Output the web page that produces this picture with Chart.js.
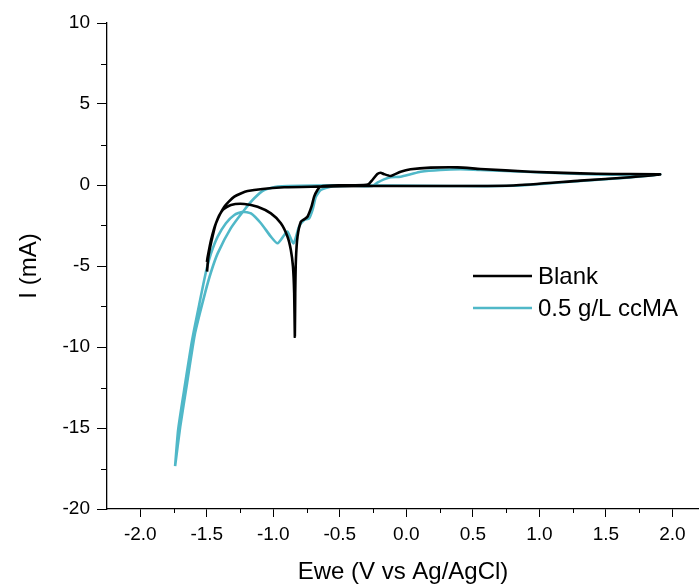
<!DOCTYPE html>
<html>
<head>
<meta charset="utf-8">
<script src="https://cdn.jsdelivr.net/npm/chart.js@4.4.1/dist/chart.umd.min.js"></script>
<style>
    body { margin: 0; background: #fff; }
    #wrap { width: 699px; height: 587px; }
</style>
</head>
<body>
<div id="wrap"><canvas id="cvChart" width="699" height="587"></canvas></div>
<script>
// Blank: anodic sweep from -1.5 V to +1.9 V, then back down to -1.5 V
const blankE = [-1.499, -1.493, -1.468, -1.431, -1.368, -1.293, -1.193, -0.918, -0.668, -0.293, 0.332, 0.805, 1.308, 1.683, 1.908,
    1.555, 1.308, 0.933, 0.557, 0.385, 0.182, 0.032, -0.043, -0.118, -0.170, -0.193, -0.218, -0.255, -0.283, -0.320, -0.493,
    -0.643, -0.668, -0.693, -0.713, -0.743, -0.768, -0.793, -0.818, -0.830, -0.835, -0.838, -0.843, -0.852, -0.868, -0.893,
    -0.943, -1.018, -1.118, -1.218, -1.318, -1.380, -1.431, -1.463, -1.488, -1.498];
const blankI = [-4.75, -4.43, -3.40, -2.36, -1.34, -0.72, -0.37, -0.14, -0.10, -0.06, -0.06, -0.03, 0.27, 0.48, 0.66,
    0.68, 0.72, 0.82, 0.99, 1.09, 1.07, 0.97, 0.82, 0.56, 0.68, 0.76, 0.68, 0.31, 0.06, 0.00, -0.02,
    -0.09, -0.31, -0.72, -1.34, -1.96, -2.12, -2.27, -3.19, -4.63, -6.69, -9.36, -6.67, -5.04, -4.01, -3.19,
    -2.36, -1.75, -1.34, -1.17, -1.23, -1.54, -2.36, -3.40, -4.43, -5.35];

// 0.5 g/L ccMA
const ccmaE = [-1.738, -1.700, -1.648, -1.588, -1.513, -1.468, -1.418, -1.318, -1.218, -1.143, -1.068, -0.968, -0.545, 0.332, 0.805, 1.308, 1.683, 1.908,
    1.555, 1.308, 0.933, 0.557, 0.407, 0.257, 0.107, 0.032, -0.043, -0.118, -0.168, -0.218, -0.255, -0.400, -0.568, -0.643,
    -0.680, -0.705, -0.731, -0.768, -0.806, -0.848, -0.893, -0.918, -0.968, -1.018, -1.093, -1.168, -1.230, -1.293, -1.356,
    -1.418, -1.468, -1.503, -1.550, -1.610, -1.670, -1.715, -1.738];
const ccmaI = [-17.35, -14.94, -12.22, -9.14, -6.67, -5.37, -4.22, -2.65, -1.54, -0.82, -0.31, -0.10, -0.02, -0.06, -0.05, 0.25, 0.47, 0.66,
    0.64, 0.68, 0.80, 0.93, 0.97, 0.93, 0.82, 0.66, 0.51, 0.48, 0.35, 0.14, -0.06, -0.05, -0.10, -0.31,
    -0.72, -1.54, -2.06, -2.16, -2.57, -3.60, -2.88, -3.09, -3.60, -3.19, -2.36, -1.75, -1.65, -1.85, -2.36,
    -3.19, -4.22, -5.25, -7.10, -9.57, -12.65, -15.10, -17.35];

const seriesNames = ['Blank', '0.5 g/L ccMA'];
const xMajorTicks = [-2.0, -1.5, -1.0, -0.5, 0.0, 0.5, 1.0, 1.5, 2.0];
const xMinorTicks = [-1.75, -1.25, -0.75, -0.25, 0.25, 0.75, 1.25, 1.75];
const yMajorTicks = [-20, -15, -10, -5, 0, 5, 10];
const yMinorTicks = [-17.5, -12.5, -7.5, -2.5, 2.5, 7.5];

const FONT = '"Liberation Sans", Arial, sans-serif';
const TEAL = '#50b8c8';

function toPoints(xs, ys) {
    return xs.map((x, i) => ({ x: x, y: ys[i] }));
}

const minorTicks = { //short minor tick marks and the legend
    id: 'minorTicks',
    afterDraw(chart) {
        const ctx = chart.ctx;
        const xs = chart.scales.x, ys = chart.scales.y;
        ctx.save();
        ctx.strokeStyle = '#000';
        ctx.lineWidth = 1;
        ctx.beginPath();
        xMinorTicks.forEach(v => {
            const px = Math.round(xs.getPixelForValue(v)) + 0.5;
            ctx.moveTo(px, xs.top);
            ctx.lineTo(px, xs.top + 4);
        });
        yMinorTicks.forEach(v => {
            const py = Math.round(ys.getPixelForValue(v)) + 0.5;
            ctx.moveTo(ys.right - 6, py);
            ctx.lineTo(ys.right, py);
        });
        ctx.stroke();

        // legend
        const colors = ['#000', TEAL];
        ctx.font = '24px ' + FONT;
        ctx.textBaseline = 'middle';
        ctx.fillStyle = '#000';
        seriesNames.forEach((name, i) => {
            const y = 276 + i * 32;
            ctx.strokeStyle = colors[i];
            ctx.lineWidth = 2.5;
            ctx.beginPath();
            ctx.moveTo(473, y);
            ctx.lineTo(532, y);
            ctx.stroke();
            ctx.fillText(name, 538, y + 1);
        });
        ctx.restore();
    }
};

function createCvChart() {
    const ctx = document.getElementById('cvChart').getContext('2d');
    new Chart(ctx, {
        type: 'scatter',
        data: {
            datasets: [{
                label: seriesNames[0],
                data: toPoints(blankE, blankI),
                borderColor: '#000',
                borderWidth: 2.6,
                showLine: true,
                pointRadius: 0,
                tension: 0.2
            }, {
                label: seriesNames[1],
                data: toPoints(ccmaE, ccmaI),
                borderColor: TEAL,
                borderWidth: 2.6,
                showLine: true,
                pointRadius: 0,
                tension: 0.2
            }]
        },
        options: {
            responsive: false,
            animation: false,
            layout: { padding: { top: 23, right: 0, bottom: 0, left: 0 } },
            plugins: {
                legend: { display: false },
                tooltip: { enabled: false }
            },
            scales: {
                x: {
                    type: 'linear',
                    min: -2.25,
                    max: 2.2,
                    afterBuildTicks: scale => { scale.ticks = xMajorTicks.map(v => ({ value: v })); },
                    afterFit: scale => { scale.height = 78; },
                    ticks: {
                        autoSkip: false,
                        maxRotation: 0,
                        padding: 6,
                        color: '#000',
                        font: { family: FONT, size: 19 },
                        callback: v => Number(v).toFixed(1)
                    },
                    grid: { drawOnChartArea: false, tickLength: 8, tickColor: '#000', tickWidth: 1 },
                    border: { color: '#000', width: 1.3 },
                    title: {
                        display: true,
                        text: 'Ewe (V vs Ag/AgCl)',
                        color: '#000',
                        font: { family: FONT, size: 24 },
                        padding: { top: 0, bottom: 0 }
                    }
                },
                y: {
                    type: 'linear',
                    min: -20,
                    max: 10,
                    afterBuildTicks: scale => { scale.ticks = yMajorTicks.map(v => ({ value: v })); },
                    afterFit: scale => { scale.width = 107; },
                    ticks: {
                        autoSkip: false,
                        padding: 7,
                        color: '#000',
                        font: { family: FONT, size: 19 },
                        callback: v => String(v)
                    },
                    grid: { drawOnChartArea: false, tickLength: 10, tickColor: '#000', tickWidth: 1 },
                    border: { color: '#000', width: 1.3 },
                    title: {
                        display: true,
                        text: 'I (mA)',
                        color: '#000',
                        font: { family: FONT, size: 24 },
                        padding: { top: 15, bottom: 0 }
                    }
                }
            }
        },
        plugins: [minorTicks]
    });
}

document.addEventListener("DOMContentLoaded", function() {
    createCvChart();
});
</script>
</body>
</html>
